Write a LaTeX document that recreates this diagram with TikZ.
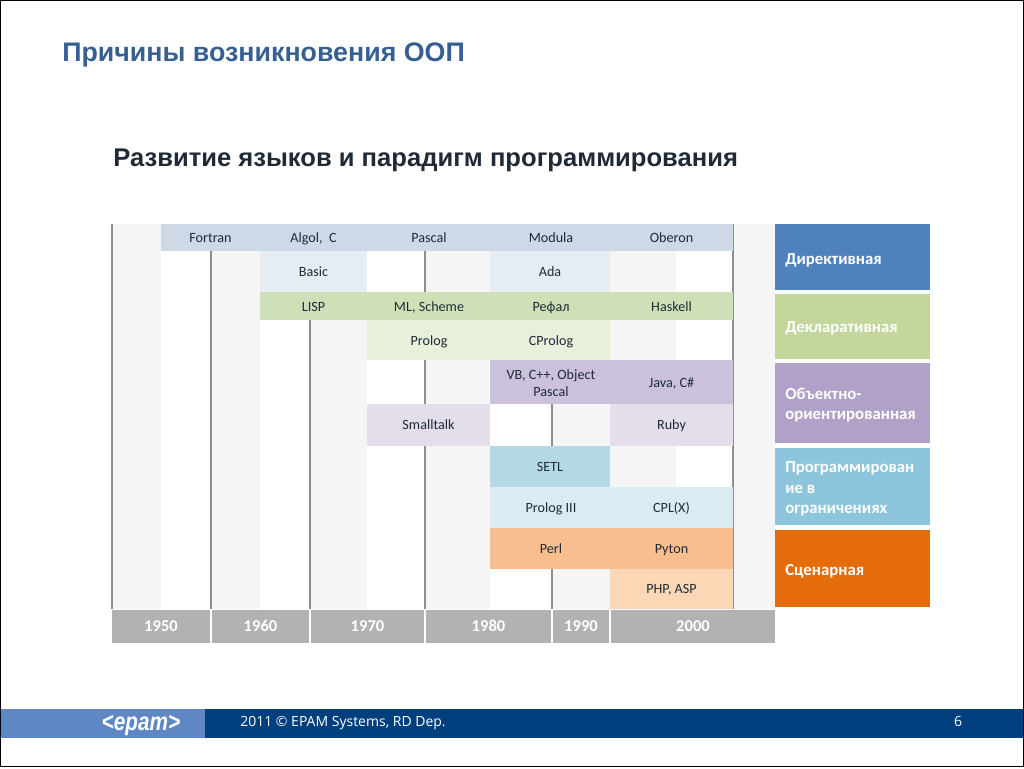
\documentclass[tikz,border=0pt]{standalone}
\usepackage{fontspec}
\setmainfont{Liberation Sans}
\newfontfamily\chartfont{Carlito}
\newfontfamily\footfont{Open Sans}
\usepackage{tikz}
\usetikzlibrary{positioning}
\definecolor{stripeGray}{HTML}{F5F5F5}
\definecolor{ruleGray}{HTML}{8E8E8E}
\definecolor{yearGray}{HTML}{B2B2B2}
\definecolor{titleBlue}{HTML}{376092}
\definecolor{headInk}{HTML}{1F2A36}
\definecolor{labelInk}{HTML}{1E2A38}
\definecolor{barBlue}{HTML}{CFD8E6}
\definecolor{barBlueLt}{HTML}{E5ECF2}
\definecolor{barGreen}{HTML}{CFDFB8}
\definecolor{barGreenLt}{HTML}{E8F0DC}
\definecolor{barViolet}{HTML}{CBC1DB}
\definecolor{barVioletLt}{HTML}{E3DEE9}
\definecolor{barCyan}{HTML}{B4D9E4}
\definecolor{barCyanLt}{HTML}{DAECF2}
\definecolor{barOrange}{HTML}{F8BE8E}
\definecolor{barOrangeLt}{HTML}{FBD7B6}
\definecolor{catBlue}{HTML}{4F81BD}
\definecolor{catGreen}{HTML}{C3D69B}
\definecolor{catViolet}{HTML}{B1A0C7}
\definecolor{catCyan}{HTML}{8CC5DC}
\definecolor{catOrange}{HTML}{E46C0A}
\definecolor{footLight}{HTML}{5F87C4}
\definecolor{footDark}{HTML}{003F7D}

\begin{document}
\begin{tikzpicture}[
  x=0.75pt, y=-0.75pt,
  stripe/.style={fill=stripeGray},
  yearline/.style={draw=ruleGray, line width=1pt},
  twolines/.style={align=center, inner sep=0pt, text=labelInk,
    font=\fontsize{10.6}{13}\selectfont\chartfont},
  lbl/.style={twolines, text height=7pt, text depth=0pt},
  barlbl/.style={lbl, midway},
  year/.style={midway, inner sep=0pt, text=white, text height=8.2pt, text depth=0pt,
    font=\fontsize{12.4}{14}\selectfont\chartfont\bfseries},
  cat/.style={anchor=west, align=left, inner sep=0pt, text=white,
    font=\fontsize{12.6}{15.2}\selectfont\chartfont\bfseries},
]
\useasboundingbox (0,0) rectangle (1024,768);
\draw[black, line width=0.9pt] (0.6,0.6) rectangle (1023.4,766.4);

\node[anchor=west, inner sep=0pt, text=titleBlue, font=\fontsize{20.1}{24}\selectfont\bfseries] (title) at (62,54.5) {Причины возникновения ООП};
\node[anchor=west, inner sep=0pt, text=headInk, font=\fontsize{19.2}{24}\selectfont\bfseries] (head) at (113,160) {Развитие языков и парадигм программирования};

% background stripes
\fill[stripe] (112,224) rectangle (161,609);
\fill[stripe] (211,224) rectangle (260,609);
\fill[stripe] (310,224) rectangle (367,609);
\fill[stripe] (425,224) rectangle (490,609);
\fill[stripe] (552,224) rectangle (676,609);
\fill[stripe] (733,224) rectangle (775,609);

\draw[yearline] (112,224) -- (112,609);
\draw[yearline] (211,224) -- (211,609);
\draw[yearline] (310,224) -- (310,609);
\draw[yearline] (425,224) -- (425,609);
\draw[yearline] (552,224) -- (552,609);
\draw[yearline] (733,224) -- (733,609);

% language bars
\fill[barBlue] (161,224) rectangle (733,251);
\node[lbl] (fortran) at (210.5,238) {Fortran};
\node[lbl] (algol) at (313.5,238) {Algol,\ \ C};
\node[lbl] (pascal) at (429,238) {Pascal};
\node[lbl] (modula) at (551,238) {Modula};
\node[lbl] (oberon) at (671.5,238) {Oberon};

\fill[barBlueLt] (260,251) rectangle (367,292) node[barlbl] (basic) {Basic};
\fill[barBlueLt] (490,251) rectangle (610,292) node[barlbl] (ada) {Ada};

\fill[barGreen] (260,292) rectangle (733,320);
\node[lbl] (lisp) at (313.5,306.5) {LISP};
\node[lbl] (ml) at (429,306.5) {ML, Scheme};
\node[lbl] (refal) at (551,306.5) {Рефал};
\node[lbl] (haskell) at (671.5,306.5) {Haskell};

\fill[barGreenLt] (367,320) rectangle (610,360);
\node[lbl] (prolog) at (429,341) {Prolog};
\node[lbl] (cprolog) at (551,341) {CProlog};

\fill[barViolet] (490,360) rectangle (733,404);
\node[twolines] (vb) at (551,383) {VB, C++, Object\\Pascal};
\node[lbl] (java) at (671.5,383) {Java, C\#};

\fill[barVioletLt] (367,404) rectangle (490,446) node[barlbl] (smalltalk) {Smalltalk};
\fill[barVioletLt] (610,404) rectangle (733,446) node[barlbl] (ruby) {Ruby};

\fill[barCyan] (490,446) rectangle (610,487) node[barlbl] (setl) {SETL};

\fill[barCyanLt] (490,487) rectangle (733,528);
\node[lbl] (prologiii) at (551,508) {Prolog III};
\node[lbl] (cplx) at (671.5,508) {CPL(X)};

\fill[barOrange] (490,528) rectangle (733,569);
\node[lbl] (perl) at (551,549) {Perl};
\node[lbl] (pyton) at (671.5,549) {Pyton};

\fill[barOrangeLt] (610,569) rectangle (733,609) node[barlbl] (php) {PHP, ASP};

% years
\fill[yearGray] (112,610) rectangle (210,643) node[year] (y1950) {1950};
\fill[yearGray] (212,610) rectangle (309,643) node[year] (y1960) {1960};
\fill[yearGray] (311,610) rectangle (424,643) node[year] (y1970) {1970};
\fill[yearGray] (426,610) rectangle (551,643) node[year] (y1980) {1980};
\fill[yearGray] (553,610) rectangle (609,643) node[year] (y1990) {1990};
\fill[yearGray] (611,610) rectangle (775,643) node[year] (y2000) {2000};

% paradigm boxes
\fill[catBlue] (775,224) rectangle (930,290);
\fill[catGreen] (775,294) rectangle (930,359);
\fill[catViolet] (775,363) rectangle (930,443);
\fill[catCyan] (775,448) rectangle (930,525);
\fill[catOrange] (775,530) rectangle (930,607);
\node[cat] (directive) at (785,260.5) {Директивная};
\node[cat] (declarative) at (785,328.5) {Декларативная};
\node[cat] (objects) at (785,405) {Объектно-\\ориентированная};
\node[cat] (constraints) at (785,489) {Программирован\\ие в\\ограничениях};
\node[cat] (scripts) at (785,571.5) {Сценарная};

% footer
\fill[footLight] (1,709) rectangle (205,738);
\fill[footDark] (205,709) rectangle (1023,738);
\node[inner sep=0pt, text=white, xscale=0.82, font=\fontsize{19}{21}\selectfont\bfseries\itshape] (logo) at (141,726) {<epam>};
\node[anchor=west, inner sep=0pt, text=white, font=\fontsize{10.5}{13}\selectfont\footfont] (copyright) at (240,723) {2011 © EPAM Systems, RD Dep.};
\node[inner sep=0pt, text=white, font=\fontsize{10.5}{13}\selectfont\footfont] (pagenum) at (958,721) {6};
\end{tikzpicture}
\end{document}
